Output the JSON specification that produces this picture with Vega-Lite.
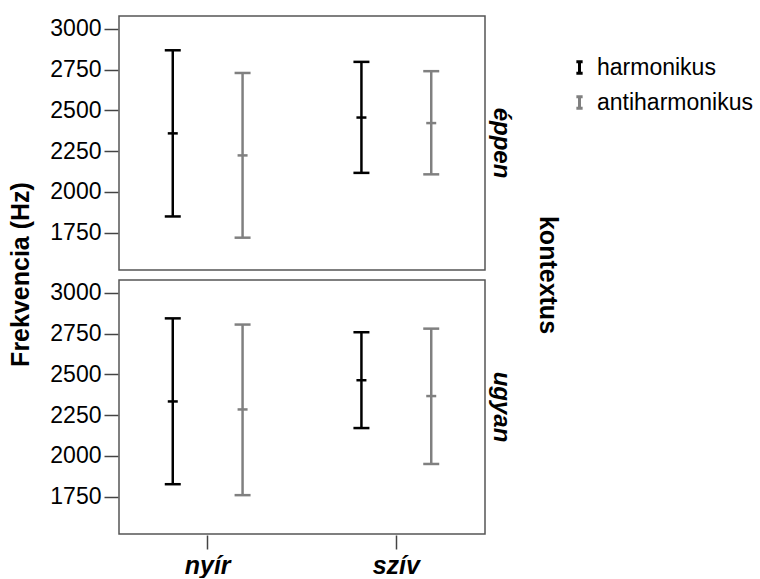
{
  "$schema": "https://vega.github.io/schema/vega-lite/v6.json",
  "padding": {"left": 8, "top": 15, "right": 0, "bottom": 0},
  "background": "white",
  "data": {
    "values": [
      {"kontextus": "éppen", "szo": "nyír", "tipus": "harmonikus", "low": 1850, "mean": 2359, "high": 2868},
      {"kontextus": "éppen", "szo": "nyír", "tipus": "antiharmonikus", "low": 1720, "mean": 2224, "high": 2729},
      {"kontextus": "éppen", "szo": "szív", "tipus": "harmonikus", "low": 2117, "mean": 2456, "high": 2797},
      {"kontextus": "éppen", "szo": "szív", "tipus": "antiharmonikus", "low": 2108, "mean": 2422, "high": 2740},
      {"kontextus": "ugyan", "szo": "nyír", "tipus": "harmonikus", "low": 1827, "mean": 2334, "high": 2843},
      {"kontextus": "ugyan", "szo": "nyír", "tipus": "antiharmonikus", "low": 1760, "mean": 2285, "high": 2805},
      {"kontextus": "ugyan", "szo": "szív", "tipus": "harmonikus", "low": 2171, "mean": 2464, "high": 2758},
      {"kontextus": "ugyan", "szo": "szív", "tipus": "antiharmonikus", "low": 1951, "mean": 2367, "high": 2780}
    ]
  },
  "spacing": 12,
  "resolve": {"scale": {"y": "independent"}, "axis": {"y": "independent"}},
  "hconcat": [
    {
      "width": 1,
      "height": 516,
      "view": {"stroke": null},
      "mark": {"type": "point", "opacity": 0},
      "encoding": {
        "y": {
          "field": "mean",
          "type": "quantitative",
          "title": "Frekvencia (Hz)",
          "axis": {
            "values": [],
            "ticks": false,
            "labels": false,
            "domain": false,
            "grid": false,
            "titlePadding": 0,
            "titleFont": "Liberation Sans",
            "titleFontSize": 25,
            "titleFontWeight": "bold",
            "titleColor": "black"
          }
        }
      }
    },
    {
      "facet": {
        "row": {
          "field": "kontextus",
          "type": "nominal",
          "sort": ["éppen", "ugyan"],
          "title": "kontextus",
          "header": {
            "labelOrient": "right",
            "labelAngle": 90,
            "labelFont": "Liberation Sans",
            "labelFontSize": 24,
            "labelFontWeight": "bold",
            "labelFontStyle": "italic",
            "labelColor": "black",
            "labelPadding": 3,
            "titleOrient": "right",
            "titleAngle": 90,
            "titleFont": "Liberation Sans",
            "titleFontSize": 25,
            "titleFontWeight": "bold",
            "titleColor": "black",
            "titlePadding": 12
          }
        }
      },
      "spacing": 8,
      "spec": {
        "width": 366,
        "height": 254,
        "encoding": {
          "x": {
            "field": "szo",
            "type": "nominal",
            "sort": ["nyír", "szív"],
            "title": null,
            "scale": {"paddingInner": 0.26, "paddingOuter": 0.1},
            "axis": {
              "labelAngle": 0,
              "labelFont": "Liberation Sans",
              "labelFontSize": 25,
              "labelFontWeight": "bold",
              "labelFontStyle": "italic",
              "labelColor": "black",
              "labelPadding": 4,
              "tickSize": 14,
              "tickColor": "#444444",
              "tickWidth": 1.5,
              "domain": false
            }
          },
          "xOffset": {
            "field": "tipus",
            "type": "nominal",
            "sort": ["harmonikus", "antiharmonikus"],
            "scale": {"paddingInner": 0, "paddingOuter": 0}
          },
          "color": {
            "field": "tipus",
            "type": "nominal",
            "title": null,
            "scale": {"domain": ["harmonikus", "antiharmonikus"], "range": ["#000000", "#808080"]},
            "legend": {
              "orient": "none",
              "legendX": 535,
              "legendY": 40,
              "symbolType": "M0,-1V1M-0.55,-1H0.55M-0.55,1H0.55",
              "symbolSize": 130,
              "symbolStrokeWidth": 3,
              "labelFont": "Liberation Sans",
              "labelFontSize": 23,
              "labelColor": "black",
              "labelOffset": 6,
              "rowPadding": 10
            }
          }
        },
        "layer": [
          {
            "mark": {"type": "rule", "strokeWidth": 2.5},
            "encoding": {
              "y": {
                "field": "low",
                "type": "quantitative",
                "title": null,
                "scale": {"domain": [1522, 3078], "nice": false, "zero": false},
                "axis": {
                  "values": [1750, 2000, 2250, 2500, 2750, 3000],
                  "format": "d",
                  "grid": false,
                  "domain": false,
                  "tickSize": 14,
                  "tickColor": "#444444",
                  "tickWidth": 1.5,
                  "labelFont": "Liberation Sans",
                  "labelFontSize": 23,
                  "labelColor": "black",
                  "labelPadding": 3
                }
              },
              "y2": {"field": "high"}
            }
          },
          {
            "mark": {"type": "tick", "thickness": 2.5, "size": 16},
            "encoding": {"y": {"field": "low", "type": "quantitative"}}
          },
          {
            "mark": {"type": "tick", "thickness": 2.5, "size": 16},
            "encoding": {"y": {"field": "high", "type": "quantitative"}}
          },
          {
            "mark": {"type": "tick", "thickness": 2.5, "size": 10},
            "encoding": {"y": {"field": "mean", "type": "quantitative"}}
          }
        ]
      }
    }
  ],
  "config": {
    "view": {"stroke": "#555555", "strokeWidth": 1.5},
    "tick": {"opacity": 1}
  }
}
